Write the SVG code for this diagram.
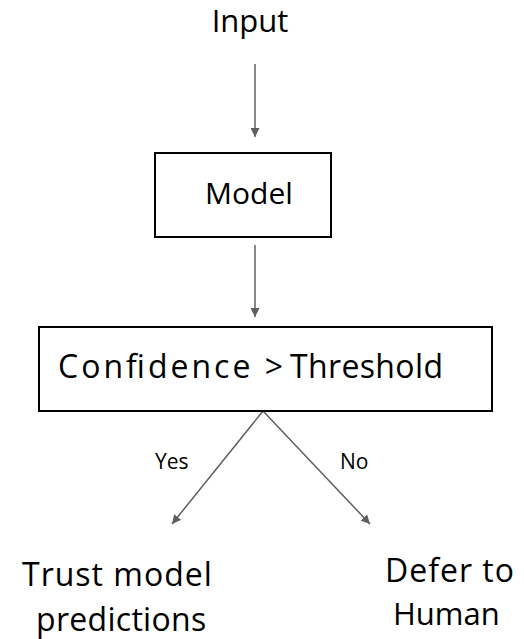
<svg xmlns="http://www.w3.org/2000/svg" width="524" height="639" viewBox="0 0 524 639">
<style>
text{font-family:"Open Sans","Liberation Sans",sans-serif;fill:#000}
.box{fill:#fff;stroke:#000;stroke-width:2}
.edge{stroke:#5f5f5f;stroke-width:1.5;fill:none}
.big{font-size:31px}
.out{font-size:32px;letter-spacing:1px}
.lbl{font-size:21px}
</style>
<defs>
<marker id="ah" viewBox="0 0 10 10" refX="10" refY="5" markerWidth="9" markerHeight="9" markerUnits="userSpaceOnUse" orient="auto">
<path d="M0,0 L10,5 L0,10 z" fill="#5f5f5f"/>
</marker>
</defs>
<g id="connectors">
<line class="edge" x1="255" y1="64" x2="255" y2="137" marker-end="url(#ah)"/>
<line class="edge" x1="255" y1="245" x2="255" y2="317" marker-end="url(#ah)"/>
<line class="edge" x1="263" y1="411" x2="172" y2="524" marker-end="url(#ah)"/>
<line class="edge" x1="263" y1="411" x2="370" y2="524" marker-end="url(#ah)"/>
<text class="lbl" x="155" y="469">Yes</text>
<text class="lbl" x="340" y="469">No</text>
</g>
<g id="input"><text class="big" x="250" y="32" text-anchor="middle">Input</text></g>
<g id="model">
<rect class="box" x="155" y="153" width="176" height="84"/>
<text class="big" x="205" y="204" style="font-size:30px">Model</text>
</g>
<g id="threshold">
<rect class="box" x="39" y="327" width="453" height="84"/>
<text style="font-size:32px" y="378"><tspan x="58" textLength="225" lengthAdjust="spacing">Confidence &gt;</tspan><tspan x="290" textLength="153" lengthAdjust="spacing">Threshold</tspan></text>
</g>
<g id="trust">
<text class="out" x="22" y="586">Trust model</text>
<text class="out" x="36" y="631" style="letter-spacing:0.3px">predictions</text>
</g>
<g id="defer">
<text class="out" x="385" y="582">Defer to</text>
<text class="out" x="393" y="625" style="font-size:31px;letter-spacing:0">Human</text>
</g>
</svg>
